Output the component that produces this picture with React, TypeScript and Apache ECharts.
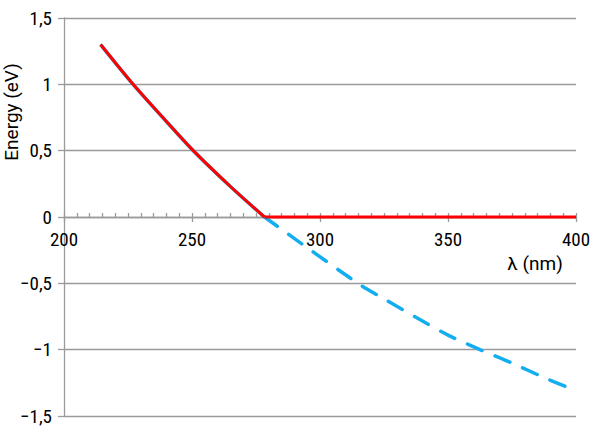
import React, { useEffect, useRef } from "react";
import * as echarts from "echarts";

// Energy vs wavelength
const wavelengths = [214.3, 227, 240, 250.5, 265, 278.3, 314.8, 326.2, 337.8, 350, 362.5, 374.9, 387.5, 400];
const energies = [1.3, 1.0, 0.72, 0.5, 0.23, 0, -0.5, -0.63, -0.76, -0.89, -1.0, -1.1, -1.21, -1.31];
const thresholdNm = 278.3;
const flatWavelengths = [278.3, 400];
const flatEnergies = [0, 0];
const yTicks = [-1.5, -1, -0.5, 0, 0.5, 1, 1.5];

const FONT = "'Liberation Sans Narrow', 'Roboto Condensed', 'DejaVu Sans Condensed', Roboto";
const TFONT = "Roboto";
const FS = 19;
const GRID = { left: 64, right: 24, top: 18, bottom: 15, outerBoundsMode: "none", containLabel: false };
const PLOT_H = 431 - 18 - 15;
const AXC = "#9a9a9a";

export default function App() {
  const ref = useRef<HTMLDivElement>(null);
  useEffect(() => {
    if (!ref.current) return;
    const chart = echarts.init(ref.current, null, { renderer: "svg" });
    const pts = wavelengths.map((x, i) => [x, energies[i]]);
    const upper = pts.filter((p) => p[0] <= thresholdNm);
    const lower = pts.filter((p) => p[0] >= thresholdNm);
    const flat = flatWavelengths.map((x, i) => [x, flatEnergies[i]]);
    const fmtY = (v: number) => {
      const s = String(Math.abs(v)).replace(".", ",");
      return v < 0 ? "\u2212" + s : s;
    };
    chart.setOption({
      animation: false,
      grid: [GRID, GRID],
      xAxis: [
        {
          type: "value",
          gridIndex: 0,
          position: "bottom",
          offset: -PLOT_H / 2,
          min: 200,
          max: 400,
          interval: 50,
          axisLine: { onZero: false, lineStyle: { color: AXC, width: 1.3 } },
          axisTick: { show: true, length: 5, lineStyle: { color: AXC, width: 1.3 } },
          minorTick: { show: false },
          axisLabel: { margin: 13, color: "#000", fontSize: FS, fontFamily: FONT },
          splitLine: { show: false },
        },
        {
          type: "value",
          gridIndex: 1,
          position: "bottom",
          offset: -PLOT_H / 2,
          min: 200,
          max: 400,
          interval: 50,
          axisLine: { show: false, onZero: false },
          axisTick: { show: true, inside: true, length: 4, lineStyle: { color: AXC, width: 1.3 } },
          minorTick: { show: true, splitNumber: 10, length: 4, lineStyle: { color: AXC, width: 1.3 } },
          axisLabel: { show: false },
          splitLine: { show: false },
        },
      ],
      yAxis: [
        {
          type: "value",
          gridIndex: 0,
          min: -1.5,
          max: 1.5,
          interval: 0.5,
          axisLine: { show: true, onZero: false, lineStyle: { color: AXC, width: 1.3 } },
          axisTick: { show: true, length: 6, lineStyle: { color: AXC, width: 1.3 } },
          axisLabel: {
            margin: 12,
            color: "#000",
            fontSize: FS,
            fontFamily: FONT,
            formatter: (v: number) => (yTicks.includes(v) ? fmtY(v) : ""),
          },
          splitLine: { show: true, lineStyle: { color: AXC, width: 1.3 } },
        },
        {
          type: "value",
          gridIndex: 1,
          min: -1.5,
          max: 1.5,
          interval: 0.5,
          show: false,
        },
      ],
      graphic: [
        {
          type: "text",
          x: 11.5,
          y: 112,
          rotation: Math.PI / 2,
          style: {
            text: "Energy (eV)",
            fontSize: 19,
            fontFamily: TFONT,
            fill: "#000",
            align: "center",
            verticalAlign: "middle",
          },
        },
        {
          type: "text",
          x: 535,
          y: 263,
          style: {
            text: "\u03bb (nm)",
            fontSize: 19,
            fontFamily: TFONT,
            fill: "#000",
            align: "center",
            verticalAlign: "middle",
          },
        },
      ],
      series: [
        {
          type: "line",
          data: upper,
          smooth: 0.3,
          symbol: "none",
          lineStyle: { color: "#12aef0", width: 3.5 },
          z: 2,
        },
        {
          type: "line",
          data: lower,
          smooth: 0.3,
          symbol: "none",
          lineStyle: { color: "#12aef0", width: 3.5, type: [16, 14], cap: "round" },
          z: 2,
        },
        {
          type: "line",
          data: upper,
          smooth: 0.3,
          symbol: "none",
          lineStyle: { color: "#ff0000", width: 3 },
          z: 3,
        },
        {
          type: "line",
          data: flat,
          symbol: "none",
          lineStyle: { color: "#ff0000", width: 3 },
          z: 3,
        },
      ],
    });
    return () => chart.dispose();
  }, []);
  return <div ref={ref} style={{ width: 600, height: 431, position: "absolute", left: 0, top: 0 }} />;
}
